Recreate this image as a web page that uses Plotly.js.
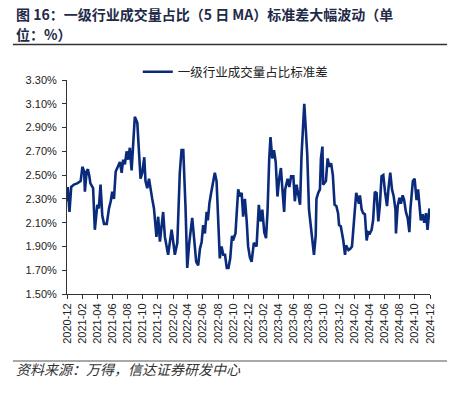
<!DOCTYPE html>
<html>
<head>
<meta charset="utf-8">
<script src="https://cdn.plot.ly/plotly-3.0.1.min.js"></script>
<style>
html,body{margin:0;padding:0;background:#fff;}
#chart{width:455px;height:396px;}
</style>
</head>
<body>
<div id="chart"></div>
<script>
// ---- data ----
const seriesName = "一级行业成交量占比标准差";
const titleLine1 = "图 16：一级行业成交量占比（5 日 MA）标准差大幅波动（单";
const titleLine2 = "位：%）";
const sourceText = "资料来源：万得，信达证券研发中心";

const dates = [
"2020-12-01","2020-12-04","2020-12-11","2020-12-18","2020-12-29","2021-01-11","2021-01-25","2021-02-01","2021-02-08","2021-02-11",
"2021-02-18","2021-02-23","2021-03-01","2021-03-05","2021-03-16","2021-03-23","2021-04-02","2021-04-08","2021-04-15","2021-04-22",
"2021-04-29","2021-05-10","2021-05-19","2021-05-26","2021-06-01","2021-06-08","2021-06-15","2021-06-24","2021-07-02","2021-07-09",
"2021-07-15","2021-07-22","2021-07-29","2021-08-04","2021-08-11","2021-08-18","2021-08-27","2021-08-31","2021-09-10","2021-09-16",
"2021-09-23","2021-09-30","2021-10-08","2021-10-13","2021-10-20","2021-10-27","2021-11-02","2021-11-09","2021-11-16","2021-11-23",
"2021-11-26","2021-12-03","2021-12-10","2021-12-23","2021-12-30","2022-01-12","2022-01-26","2022-02-01","2022-02-08","2022-02-18",
"2022-02-28","2022-03-07","2022-03-14","2022-03-23","2022-03-30","2022-04-07","2022-04-19","2022-04-26","2022-05-05","2022-05-13",
"2022-05-20","2022-05-27","2022-06-02","2022-06-09","2022-06-16","2022-06-21","2022-06-27","2022-07-04","2022-07-13","2022-07-19",
"2022-07-26","2022-08-02","2022-08-08","2022-08-15","2022-08-22","2022-08-29","2022-09-05","2022-09-12","2022-09-19","2022-09-26",
"2022-09-30","2022-10-10","2022-10-14","2022-10-21","2022-10-28","2022-11-04","2022-11-10","2022-11-17","2022-11-24","2022-11-30",
"2022-12-07","2022-12-14","2022-12-23","2023-01-03","2023-01-12","2023-01-19","2023-01-26","2023-02-03","2023-02-10","2023-02-16",
"2023-02-23","2023-02-28","2023-03-07","2023-03-14","2023-03-21","2023-03-28","2023-04-04","2023-04-11","2023-04-17","2023-04-24",
"2023-04-28","2023-05-08","2023-05-15","2023-05-22","2023-05-31","2023-06-06","2023-06-13","2023-06-20","2023-06-27","2023-07-03",
"2023-07-10","2023-07-14","2023-07-20","2023-07-26","2023-08-02","2023-08-09","2023-08-15","2023-08-22","2023-08-29","2023-09-01",
"2023-09-08","2023-09-15","2023-09-19","2023-09-25","2023-09-28","2023-10-09","2023-10-16","2023-10-23","2023-10-30","2023-11-06",
"2023-11-13","2023-11-20","2023-11-27","2023-12-01","2023-12-08","2023-12-13","2023-12-18","2023-12-25","2023-12-29","2024-01-08",
"2024-01-15","2024-01-22","2024-01-29","2024-02-02","2024-02-08","2024-02-19","2024-02-23","2024-03-01","2024-03-07","2024-03-14",
"2024-03-21","2024-03-27","2024-04-03","2024-04-10","2024-04-16","2024-04-23","2024-04-30","2024-05-07","2024-05-13","2024-05-20",
"2024-05-27","2024-06-03","2024-06-11","2024-06-17","2024-06-24","2024-07-01","2024-07-08","2024-07-15","2024-07-17","2024-07-24",
"2024-07-31","2024-08-06","2024-08-13","2024-08-19","2024-08-26","2024-09-02","2024-09-09","2024-09-13","2024-09-23","2024-09-30",
"2024-10-08","2024-10-14","2024-10-18","2024-10-25","2024-11-01","2024-11-08","2024-11-15","2024-11-21","2024-11-27","2024-11-29"
];

const stdValues = [
2.28,2.40,2.19,2.40,2.42,2.43,2.45,2.57,2.53,2.36,
2.53,2.55,2.49,2.43,2.39,2.04,2.25,2.22,2.42,2.16,
2.09,2.09,2.22,2.28,2.36,2.30,2.53,2.57,2.61,2.52,
2.63,2.59,2.70,2.63,2.73,2.54,2.82,2.99,2.94,2.75,
2.47,2.52,2.65,2.45,2.39,2.47,2.38,2.30,2.22,2.08,
1.98,2.15,1.94,2.19,1.98,1.83,2.04,1.95,1.83,1.93,
2.52,2.71,2.71,2.23,1.72,1.93,2.14,1.98,1.77,1.74,
1.88,1.94,2.08,2.01,2.19,2.12,2.26,2.35,2.46,2.52,
2.45,2.16,1.80,1.90,1.83,1.83,1.72,1.72,1.80,1.99,
1.95,2.01,2.12,2.38,2.32,2.35,2.15,2.30,2.12,1.90,
1.81,1.77,1.93,1.90,2.25,2.11,2.21,2.02,1.97,2.19,
2.64,2.82,2.64,2.71,2.61,2.32,2.47,2.56,2.38,2.19,
2.38,2.47,2.40,2.49,2.49,2.28,2.42,2.33,2.25,2.67,
2.95,3.10,2.89,2.67,2.21,2.08,1.99,1.83,1.99,2.30,
2.35,2.38,2.64,2.74,2.42,2.45,2.64,2.57,2.60,2.50,
2.25,2.24,2.18,2.08,2.07,2.02,1.95,1.83,1.91,1.87,
1.88,1.90,2.07,2.21,2.35,2.26,2.33,2.21,2.18,2.17,
1.95,2.02,2.01,2.04,2.12,2.36,2.35,2.11,2.24,2.49,
2.50,2.36,2.24,2.39,2.52,2.38,2.32,2.21,2.01,2.24,
2.31,2.26,2.33,2.29,2.19,2.14,2.02,2.21,2.45,2.47,
2.29,2.38,2.26,2.12,2.17,2.10,2.18,2.04,2.18,2.22
];

const xRange = ["2020-12-01","2024-12-01"];
const yRange = [1.5, 3.3];

// ---- chart ----
const cjk = '"Noto Sans CJK SC", "Noto Sans", sans-serif';
const latin = '"Liberation Sans", Arial, sans-serif';

const trace = {
  type: 'scatter', mode: 'lines',
  x: dates, y: stdValues, name: seriesName,
  line: {color: '#0A2A7C', width: 2.6},
  hoverinfo: 'skip'
};

const axisCommon = {
  showgrid: false, zeroline: false, showline: true,
  linecolor: '#333', linewidth: 1,
  ticks: 'outside', ticklen: 4, tickcolor: '#333', tickwidth: 1,
  tickfont: {family: latin, size: 11, color: '#222'},
  fixedrange: true
};

const layout = {
  width: 455, height: 396,
  margin: {l: 67, r: 25, t: 80, b: 102, pad: 0},
  paper_bgcolor: '#fff', plot_bgcolor: '#fff',
  showlegend: true,
  legend: {
    orientation: 'h', x: 0.195, xanchor: 'left', y: 1.037, yanchor: 'middle',
    font: {family: cjk, size: 12.5, color: '#222'},
    bgcolor: 'rgba(0,0,0,0)', borderwidth: 0
  },
  xaxis: Object.assign({}, axisCommon, {
    type: 'date', range: xRange,
    tick0: '2020-12-01', dtick: 'M2', tickformat: '%Y-%m', tickangle: -90
  }),
  yaxis: Object.assign({}, axisCommon, {
    range: yRange, tick0: 1.5, dtick: 0.2, tickformat: '.2f', ticksuffix: '%',
    ticklabelstandoff: 3
  }),
  shapes: [
    {type: 'line', xref: 'paper', yref: 'paper', x0: -0.149, x1: 1.047, y0: 1.166, y1: 1.166,
     line: {color: '#333', width: 1.5}},
    {type: 'line', xref: 'paper', yref: 'paper', x0: -0.149, x1: 1.047, y0: -0.313, y1: -0.313,
     line: {color: '#8c8c8c', width: 1.5}}
  ],
  annotations: [
    {text: '<b>' + titleLine1 + '</b>', xref: 'paper', yref: 'paper', x: -0.146, y: 1.308,
     xanchor: 'left', yanchor: 'middle', showarrow: false,
     font: {family: cjk, size: 14, color: '#1E2A47'}},
    {text: '<b>' + titleLine2 + '</b>', xref: 'paper', yref: 'paper', x: -0.146, y: 1.215,
     xanchor: 'left', yanchor: 'middle', showarrow: false,
     font: {family: cjk, size: 14, color: '#1E2A47'}},
    {text: '<i>' + sourceText + '</i>', xref: 'paper', yref: 'paper', x: -0.146, y: -0.35,
     xanchor: 'left', yanchor: 'middle', showarrow: false,
     font: {family: cjk, size: 14, color: '#333'}}
  ]
};

Plotly.newPlot('chart', [trace], layout, {displayModeBar: false, staticPlot: true});
</script>
</body>
</html>
